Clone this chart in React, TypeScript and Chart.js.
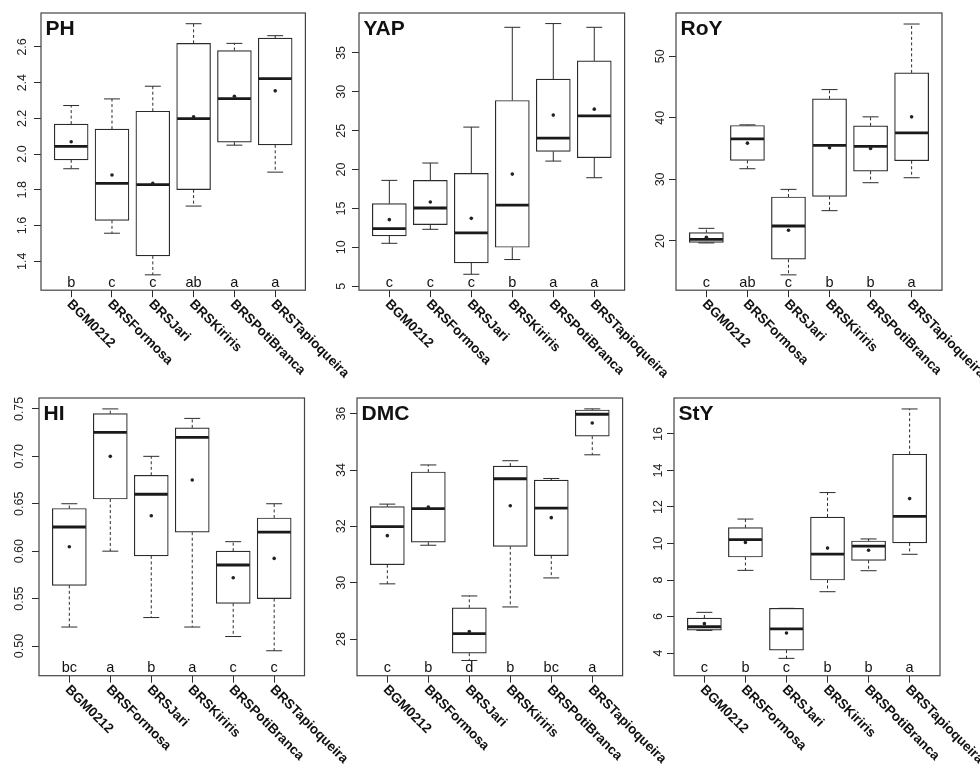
import React, { useEffect, useRef } from "react";
import { Chart, registerables } from "chart.js";
Chart.register(...registerables);

const categories = ["BGM0212", "BRSFormosa", "BRSJari", "BRSKiriris", "BRSPotiBranca", "BRSTapioqueira"];

// PH
const phLow = [1.918, 1.557, 1.324, 1.709, 2.05, 1.899];
const phQ1 = [1.968, 1.629, 1.43, 1.801, 2.067, 2.052];
const phMed = [2.043, 1.836, 1.829, 2.199, 2.311, 2.423];
const phQ3 = [2.168, 2.14, 2.24, 2.62, 2.58, 2.65];
const phHigh = [2.272, 2.309, 2.38, 2.73, 2.62, 2.663];
const phMean = [2.069, 1.883, 1.836, 2.209, 2.324, 2.354];
const phLetters = ["b", "c", "c", "ab", "a", "a"];
const phTicks = [1.4, 1.6, 1.8, 2.0, 2.2, 2.4, 2.6];

// YAP
const yapLow = [10.52, 12.32, 6.54, 8.43, 21.09, 18.95];
const yapQ1 = [11.47, 12.92, 8.0, 10.01, 22.33, 21.52];
const yapMed = [12.41, 15.06, 11.85, 15.44, 24.05, 26.91];
const yapQ3 = [15.62, 18.61, 19.51, 28.88, 31.62, 33.97];
const yapHigh = [18.61, 20.84, 25.46, 38.29, 38.77, 38.29];
const yapMean = [13.56, 15.83, 13.73, 19.42, 27.0, 27.77];
const yapLetters = ["c", "c", "c", "b", "a", "a"];
const yapTicks = [5, 10, 15, 20, 25, 30, 35];

// RoY
const royLow = [19.68, 31.73, 14.49, 24.92, 29.46, 30.27];
const royQ1 = [19.78, 33.08, 17.03, 27.24, 31.35, 33.03];
const royMed = [20.27, 36.59, 22.43, 35.51, 35.35, 37.57];
const royQ3 = [21.35, 38.76, 27.14, 43.08, 38.7, 47.3];
const royHigh = [22.05, 38.86, 28.38, 44.59, 40.16, 55.24];
const royMean = [20.59, 35.89, 21.73, 35.14, 35.03, 40.16];
const royLetters = ["c", "ab", "c", "b", "b", "a"];
const royTicks = [20, 30, 40, 50];

// HI
const hiLow = [0.52, 0.6, 0.53, 0.52, 0.51, 0.495];
const hiQ1 = [0.564, 0.655, 0.595, 0.62, 0.545, 0.55];
const hiMed = [0.6255, 0.7253, 0.66, 0.72, 0.5854, 0.62];
const hiQ3 = [0.645, 0.745, 0.68, 0.73, 0.6, 0.635];
const hiHigh = [0.65, 0.75, 0.7, 0.74, 0.61, 0.65];
const hiMean = [0.6047, 0.7, 0.6374, 0.675, 0.572, 0.5924];
const hiLetters = ["bc", "a", "b", "a", "c", "c"];
const hiTicks = [0.5, 0.55, 0.6, 0.65, 0.7, 0.75];

// DMC
const dmcLow = [29.96, 31.33, 27.24, 29.14, 30.17, 34.54];
const dmcQ1 = [30.64, 31.44, 27.5, 31.29, 30.96, 35.2];
const dmcMed = [31.99, 32.63, 28.19, 33.69, 32.65, 35.98];
const dmcQ3 = [32.7, 33.93, 29.11, 34.14, 33.64, 36.13];
const dmcHigh = [32.79, 34.18, 29.53, 34.33, 33.7, 36.17];
const dmcMean = [31.67, 32.69, 28.27, 32.73, 32.31, 35.67];
const dmcLetters = ["c", "b", "d", "b", "bc", "a"];
const dmcTicks = [28, 30, 32, 34, 36];

// StY
const styLow = [5.24, 8.53, 3.71, 7.36, 8.51, 9.41];
const styQ1 = [5.26, 9.26, 4.16, 8.0, 9.08, 10.03];
const styMed = [5.44, 10.21, 5.33, 9.42, 9.86, 11.49];
const styQ3 = [5.92, 10.87, 6.45, 11.45, 10.14, 14.89];
const styHigh = [6.23, 11.34, 6.45, 12.79, 10.25, 17.37];
const styMean = [5.61, 10.06, 5.1, 9.75, 9.63, 12.46];
const styLetters = ["c", "b", "c", "b", "b", "a"];
const styTicks = [4, 6, 8, 10, 12, 14, 16];

const FONT = '"Liberation Sans", Arial, Helvetica, sans-serif';
const CW = 380;
const CH = 385;
const AXW = 40;
const PADTOP = 13;
const TICKLEN = 7;
const X_MIN = 0.26;
const X_MAX = 6.74;
const LINE = "#2b2b2b";
const YFONT = 12.5;

type Panel = {
  title: string;
  low: number[];
  q1: number[];
  med: number[];
  q3: number[];
  high: number[];
  mean: number[];
  letters: string[];
  ticks: number[];
  decimals: number;
  yMin: number;
  yMax: number;
  left: number;
  right: number;
  top: number;
  bottom: number;
  labelOffset: number;
  dashed: boolean;
};

const panels: Panel[] = [
  { title: "PH", low: phLow, q1: phQ1, med: phMed, q3: phQ3, high: phHigh, mean: phMean, letters: phLetters, ticks: phTicks, decimals: 1, yMin: 1.238, yMax: 2.79, left: 40.8, right: 305.2, top: 13.3, bottom: 290.5, labelOffset: 18.5, dashed: true },
  { title: "YAP", low: yapLow, q1: yapQ1, med: yapMed, q3: yapQ3, high: yapHigh, mean: yapMean, letters: yapLetters, ticks: yapTicks, decimals: 0, yMin: 4.49, yMax: 40.13, left: 358.7, right: 624.3, top: 13.3, bottom: 290.5, labelOffset: 17, dashed: false },
  { title: "RoY", low: royLow, q1: royQ1, med: royMed, q3: royQ3, high: royHigh, mean: royMean, letters: royLetters, ticks: royTicks, decimals: 0, yMin: 12.0, yMax: 57.03, left: 675.5, right: 941.5, top: 13.3, bottom: 290.5, labelOffset: 15, dashed: true },
  { title: "HI", low: hiLow, q1: hiQ1, med: hiMed, q3: hiQ3, high: hiHigh, mean: hiMean, letters: hiLetters, ticks: hiTicks, decimals: 2, yMin: 0.4687, yMax: 0.7615, left: 39, right: 304.5, top: 398.3, bottom: 676, labelOffset: 19, dashed: true },
  { title: "DMC", low: dmcLow, q1: dmcQ1, med: dmcMed, q3: dmcQ3, high: dmcHigh, mean: dmcMean, letters: dmcLetters, ticks: dmcTicks, decimals: 0, yMin: 26.7, yMax: 36.556, left: 357, right: 622.6, top: 398.3, bottom: 676, labelOffset: 15.5, dashed: true },
  { title: "StY", low: styLow, q1: styQ1, med: styMed, q3: styQ3, high: styHigh, mean: styMean, letters: styLetters, ticks: styTicks, decimals: 0, yMin: 2.76, yMax: 17.97, left: 674, right: 940, top: 398.3, bottom: 676, labelOffset: 15, dashed: true },
];

function measureText(text: string, font: string): number {
  const c = document.createElement("canvas").getContext("2d");
  if (!c) return text.length * 6.7;
  c.font = font;
  return c.measureText(text).width;
}

function BoxPanel({ p }: { p: Panel }) {
  const ref = useRef<HTMLCanvasElement>(null);
  useEffect(() => {
    const canvas = ref.current;
    if (!canvas) return;
    const plotW = p.right - p.left;
    const plotH = p.bottom - p.top;
    const unit = plotW / (X_MAX - X_MIN);
    const bw = 0.83 * unit;
    const fmt = (v: number) => v.toFixed(p.decimals);
    const widest = Math.max(...p.ticks.map((t) => measureText(fmt(t), `${YFONT}px ${FONT}`)));
    const pad = p.labelOffset - TICKLEN - widest / 2;

    const extras = {
      id: "boxExtras",
      afterDatasetDraw(chart: any, args: any) {
        if (args.index !== 0) return;
        const ctx = chart.ctx;
        const xs = chart.scales.x;
        const ys = chart.scales.y;
        ctx.save();
        ctx.strokeStyle = LINE;
        categories.forEach((_, i) => {
          const x = xs.getPixelForValue(i + 1);
          ctx.lineWidth = 1;
          ctx.setLineDash(p.dashed ? [3, 2.5] : []);
          ctx.beginPath();
          ctx.moveTo(x, ys.getPixelForValue(p.q3[i]));
          ctx.lineTo(x, ys.getPixelForValue(p.high[i]));
          ctx.moveTo(x, ys.getPixelForValue(p.q1[i]));
          ctx.lineTo(x, ys.getPixelForValue(p.low[i]));
          ctx.stroke();
          ctx.setLineDash([]);
          const cw = bw * 0.47;
          ctx.beginPath();
          ctx.moveTo(x - cw / 2, ys.getPixelForValue(p.high[i]));
          ctx.lineTo(x + cw / 2, ys.getPixelForValue(p.high[i]));
          ctx.moveTo(x - cw / 2, ys.getPixelForValue(p.low[i]));
          ctx.lineTo(x + cw / 2, ys.getPixelForValue(p.low[i]));
          ctx.stroke();
          ctx.lineWidth = 2.8;
          ctx.strokeStyle = "#1a1a1a";
          ctx.beginPath();
          ctx.moveTo(x - bw / 2 + 0.5, ys.getPixelForValue(p.med[i]));
          ctx.lineTo(x + bw / 2 - 0.5, ys.getPixelForValue(p.med[i]));
          ctx.stroke();
          ctx.strokeStyle = LINE;
        });
        ctx.restore();
      },
      afterDraw(chart: any) {
        const ctx = chart.ctx;
        const a = chart.chartArea;
        const xs = chart.scales.x;
        ctx.save();
        ctx.strokeStyle = "#444";
        ctx.lineWidth = 1.2;
        ctx.strokeRect(a.left, a.top, a.right - a.left, a.bottom - a.top);
        ctx.fillStyle = "#111";
        ctx.font = `bold 21px ${FONT}`;
        ctx.textAlign = "left";
        ctx.textBaseline = "alphabetic";
        ctx.fillText(p.title, a.left + 4.5, a.top + 22);
        ctx.font = `14.5px ${FONT}`;
        ctx.textAlign = "center";
        p.letters.forEach((l, i) => {
          ctx.fillText(l, xs.getPixelForValue(i + 1), a.bottom - 3.5);
        });
        ctx.font = `bold 13.5px ${FONT}`;
        ctx.textAlign = "left";
        ctx.textBaseline = "middle";
        categories.forEach((c, i) => {
          const x = xs.getPixelForValue(i + 1);
          ctx.save();
          ctx.translate(x - 2, a.bottom + 12);
          ctx.rotate(Math.PI / 4);
          ctx.fillText(c, 0, 0);
          ctx.restore();
        });
        ctx.restore();
      },
    };

    const chart = new Chart(canvas, {
      type: "bar",
      data: {
        datasets: [
          {
            type: "bar",
            data: categories.map((_, i) => ({ x: i + 1, y: [p.q1[i], p.q3[i]] })) as any,
            backgroundColor: "#ffffff",
            borderColor: LINE,
            borderWidth: 1.2,
            borderSkipped: false,
            barThickness: bw,
            grouped: false,
            order: 2,
          },
          {
            type: "line",
            data: categories.map((_, i) => ({ x: i + 1, y: p.mean[i] })) as any,
            showLine: false,
            pointRadius: 1.8,
            pointBackgroundColor: "#222",
            pointBorderWidth: 0,
            order: 1,
          },
        ] as any,
      },
      options: {
        responsive: false,
        animation: false,
        events: [],
        layout: { padding: { top: PADTOP, left: 0, right: CW - AXW - plotW, bottom: 0 } },
        plugins: { legend: { display: false }, tooltip: { enabled: false } },
        scales: {
          x: {
            type: "linear",
            min: X_MIN,
            max: X_MAX,
            offset: false,
            bounds: "data",
            afterBuildTicks: (s: any) => {
              s.ticks = categories.map((_, i) => ({ value: i + 1 }));
            },
            afterFit: (s: any) => {
              s.height = CH - PADTOP - plotH;
            },
            ticks: { display: false },
            grid: { offset: false, drawOnChartArea: false, drawTicks: true, tickLength: TICKLEN, color: LINE, lineWidth: 1 },
            border: { display: false },
          },
          y: {
            type: "linear",
            min: p.yMin,
            max: p.yMax,
            beginAtZero: false,
            bounds: "data",
            afterBuildTicks: (s: any) => {
              s.ticks = p.ticks.map((v) => ({ value: v }));
            },
            afterFit: (s: any) => {
              s.width = AXW;
            },
            ticks: {
              autoSkip: false,
              minRotation: 90,
              maxRotation: 90,
              crossAlign: "center",
              padding: pad,
              color: "#222",
              font: { family: FONT, size: YFONT },
              callback: (v: any) => fmt(Number(v)),
            },
            grid: { drawOnChartArea: false, drawTicks: true, tickLength: TICKLEN, color: LINE, lineWidth: 1 },
            border: { display: false },
          },
        },
      } as any,
      plugins: [extras],
    });
    return () => chart.destroy();
  }, [p]);
  return (
    <canvas
      ref={ref}
      width={CW}
      height={CH}
      style={{ position: "absolute", left: p.left - AXW, top: p.top - PADTOP, width: CW, height: CH }}
    />
  );
}

export default function App() {
  return (
    <div style={{ position: "absolute", left: 0, top: 0, width: 980, height: 770, background: "#fff", overflow: "hidden" }}>
      {panels.map((p) => (
        <BoxPanel key={p.title} p={p} />
      ))}
    </div>
  );
}
